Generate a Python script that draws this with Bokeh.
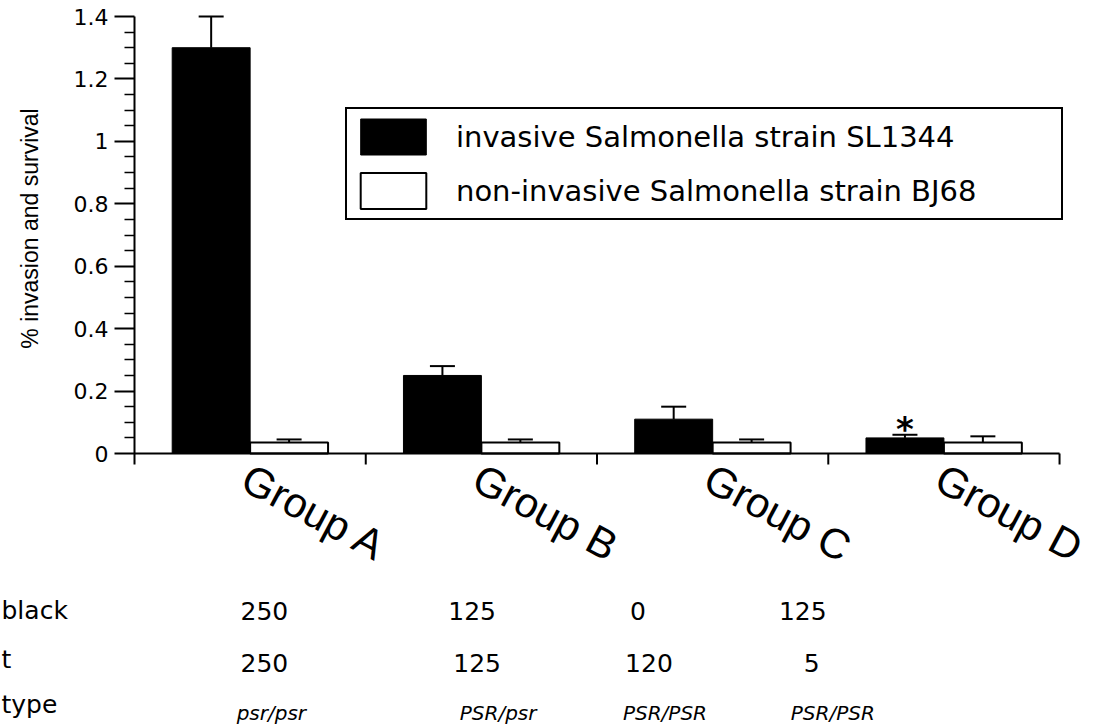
import numpy as np
from bokeh.plotting import figure
from bokeh.layouts import row
from bokeh.models import (ColumnDataSource, Range1d, FixedTicker, Whisker, TeeHead,
                          Legend, LegendItem)
from bokeh.core.properties import value
from bokeh.embed import file_html
from bokeh.resources import INLINE

# ---------------- data ----------------
groups = ["Group A", "Group B", "Group C", "Group D"]
invasive = [1.30, 0.25, 0.11, 0.05]
invasive_err = [0.10, 0.03, 0.04, 0.01]
noninvasive = [0.035, 0.035, 0.035, 0.035]
noninvasive_err = [0.010, 0.010, 0.010, 0.020]
series_names = ["invasive Salmonella strain SL1344",
                "non-invasive Salmonella strain BJ68"]
significant = ["", "", "", "*"]
y_title = "% invasion and survival"

y_ticks = [0, 0.2, 0.4, 0.6, 0.8, 1, 1.2, 1.4]
y_tick_labels = ["0", "0.2", "0.4", "0.6", "0.8", "1", "1.2", "1.4"]

row_labels = ["black", "t", "type"]
row_black = ["250", "125", "0", "125"]
row_t = ["250", "125", "120", "5"]
row_genotype = ["psr/psr", "PSR/psr", "PSR/PSR", "PSR/PSR"]

# ---------------- layout ----------------
W, H = 1098, 727
LEFT_W = 70               # px, strip holding the axis title and row labels
FRAME_LEFT = 133          # px, y-axis position
ZERO_PX = 453             # px, y = 0
TOP_PX = 16               # px, y = 1.4
PX_Y = (ZERO_PX - TOP_PX) / 1.4
PX_X = 231.5              # px per group
BW = 0.337                # bar width (group units)

def xd(px):
    return (px - FRAME_LEFT) / PX_X

def yd(px):
    return (ZERO_PX - px) / PX_Y

table_cols_px = [[263, 471, 637, 802], [263, 476, 648, 811], [270, 497, 664, 832]]
table_mid_px = [610, 662, 712]
row_label_x_px = [1, 1, 1]
row_label_mid_px = [610, 659, 704]

n = len(groups)
centers = np.arange(n) + 0.5
black_x = centers - BW / 2
white_x = centers + BW / 2

# ================= left strip =================
s = figure(width=LEFT_W, height=H,
           x_range=Range1d(xd(0), xd(LEFT_W)), y_range=Range1d(yd(H), yd(0)),
           output_backend="svg", toolbar_location=None,
           x_axis_location=None, y_axis_location=None,
           min_border_left=0, min_border_right=0, min_border_top=0,
           min_border_bottom=0, outline_line_color=None,
           background_fill_color="white", border_fill_color="white")
s.grid.grid_line_color = None
s.text(x=[xd(29)], y=[yd(228)], text=[y_title], angle=np.pi / 2,
       text_align="center", text_baseline="middle",
       text_font=value("Liberation Sans"), text_font_size="23px",
       text_color="black")
s.text(x=[xd(v) for v in row_label_x_px], y=[yd(v) for v in row_label_mid_px],
       text=row_labels, text_align="left", text_baseline="middle",
       text_font=value("DejaVu Sans"), text_font_size="25px",
       text_color="black")

# ================= main chart =================
p = figure(width=W - LEFT_W, height=H,
           x_range=Range1d(0, xd(W)), y_range=Range1d(yd(H), yd(0)),
           output_backend="svg", toolbar_location=None, x_axis_location=None,
           min_border_left=FRAME_LEFT - LEFT_W, min_border_right=0, min_border_top=0,
           min_border_bottom=0, outline_line_color=None,
           background_fill_color="white", border_fill_color="white")
p.grid.grid_line_color = None

src_b = ColumnDataSource(dict(x=black_x, top=invasive,
                              lower=invasive,
                              upper=[v + e for v, e in zip(invasive, invasive_err)]))
src_w = ColumnDataSource(dict(x=white_x, top=noninvasive,
                              lower=[v - e for v, e in zip(noninvasive, noninvasive_err)],
                              upper=[v + e for v, e in zip(noninvasive, noninvasive_err)]))
rb = p.vbar(x="x", top="top", bottom=0, width=BW, source=src_b,
            fill_color="black", line_color="black", line_width=1)
rw = p.vbar(x="x", top="top", bottom=0, width=BW, source=src_w,
            fill_color="white", line_color="black", line_width=2)

p.add_layout(Whisker(source=src_b, base="x", lower="lower", upper="upper",
                     line_width=2, line_color="black",
                     upper_head=TeeHead(size=25, line_width=2, line_color="black"),
                     lower_head=None))
p.add_layout(Whisker(source=src_w, base="x", lower="lower", upper="upper",
                     line_width=2, line_color="black",
                     upper_head=TeeHead(size=25, line_width=2, line_color="black"),
                     lower_head=TeeHead(size=25, line_width=2, line_color="black")))

# x axis line with ticks at group boundaries
p.segment(x0=[0], y0=[0], x1=[n], y1=[0], line_color="black", line_width=2)
bounds_x = list(range(1, n + 1))
p.segment(x0=bounds_x, y0=[0] * n, x1=bounds_x, y1=[yd(ZERO_PX + 11)] * n,
          line_color="black", line_width=2)

# significance marker
sig_idx = [i for i, t in enumerate(significant) if t]
p.text(x=[black_x[i] for i in sig_idx],
       y=[invasive[i] + invasive_err[i] + 6 / PX_Y for i in sig_idx],
       text=[significant[i] for i in sig_idx],
       text_align="center", text_baseline="middle",
       text_font=value("DejaVu Sans"), text_font_style="bold",
       text_font_size="34px", text_color="black")

# rotated group labels
p.text(x=centers - 5 / PX_X, y=[yd(475)] * n, text=groups,
       angle=-0.49, text_align="left", text_baseline="middle",
       text_font=value("Liberation Sans"), text_font_size="42px",
       text_color="black")

# table
for r, vals in enumerate([row_black, row_t]):
    p.text(x=[xd(v) for v in table_cols_px[r]], y=[yd(table_mid_px[r])] * n,
           text=vals, text_align="center", text_baseline="middle",
           text_font=value("DejaVu Sans"), text_font_size="25px",
           text_color="black")
p.text(x=[xd(v) for v in table_cols_px[2]], y=[yd(table_mid_px[2])] * n,
       text=row_genotype, text_align="center", text_baseline="middle",
       text_font=value("DejaVu Sans"), text_font_style="italic",
       text_font_size="20px", text_color="black")

# y axis
ya = p.yaxis[0]
minor = [round(v, 2) for v in np.arange(0.05, 1.4, 0.05) if round(v, 2) not in y_ticks]
ya.ticker = FixedTicker(ticks=y_ticks, minor_ticks=minor)
ya.major_label_overrides = dict(zip(y_ticks, y_tick_labels))
ya.bounds = (yd(ZERO_PX + 11), 1.4)
ya.axis_line_width = 2
ya.axis_line_color = "black"
ya.major_tick_line_width = 2
ya.major_tick_line_color = "black"
ya.major_tick_out = 20
ya.major_tick_in = 0
ya.minor_tick_line_width = 1.5
ya.minor_tick_line_color = "black"
ya.minor_tick_out = 10
ya.minor_tick_in = 0
ya.major_label_standoff = 6
ya.major_label_text_font = "DejaVu Sans"
ya.major_label_text_font_size = "22px"
ya.major_label_text_color = "black"

legend = Legend(items=[LegendItem(label=series_names[0], renderers=[rb]),
                       LegendItem(label=series_names[1], renderers=[rw])],
                location=(211, H - 220), orientation="vertical",
                glyph_width=82, glyph_height=45, label_standoff=22,
                padding=5, spacing=9, margin=0, label_width=600, label_height=45,
                label_text_font="DejaVu Sans", label_text_font_size="29px",
                label_text_color="black",
                border_line_color="black", border_line_width=2, border_line_alpha=1.0,
                background_fill_color="white", background_fill_alpha=1.0)
p.add_layout(legend)

layout = row(s, p, spacing=0)
open("out.html", "w").write(file_html(layout, INLINE))
